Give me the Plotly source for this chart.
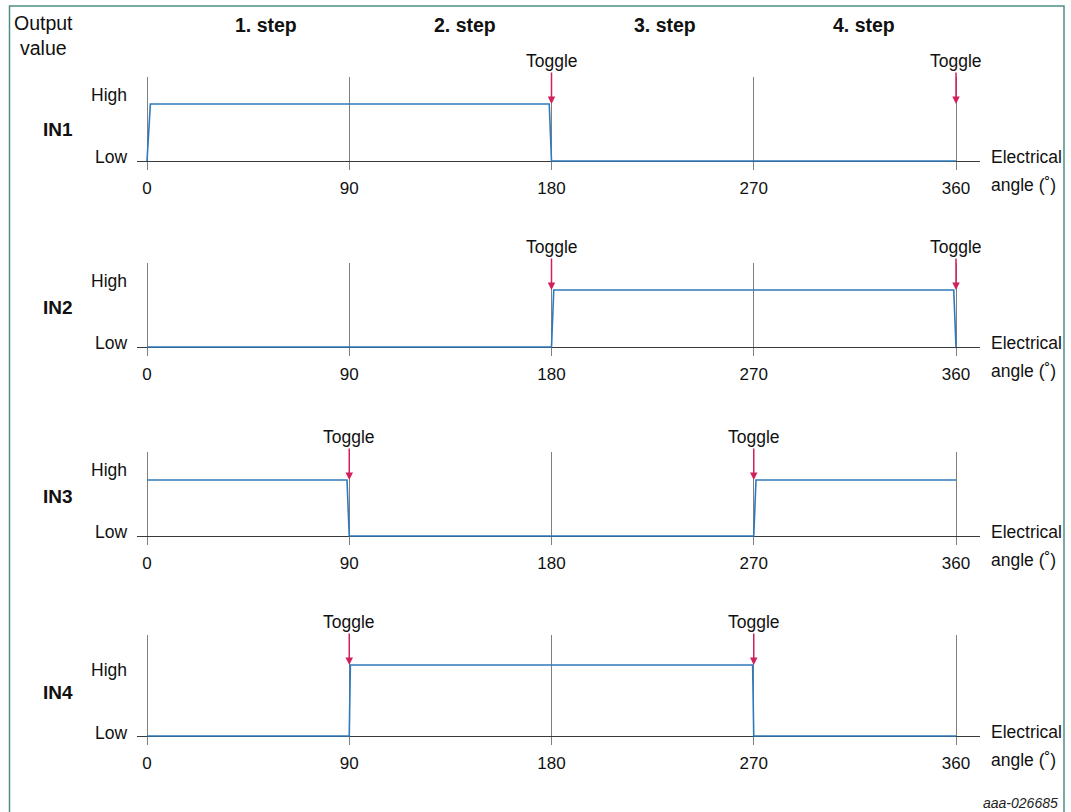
import plotly.graph_objects as go

# ---------------- data ----------------
angle_ticks = [0, 90, 180, 270, 360]
level_ticks = [0, 1]
level_labels = ["Low", "High"]
signal_names = ["IN1", "IN2", "IN3", "IN4"]

in1_x = [0, 1.5, 179, 180, 360]
in1_y = [0, 1, 1, 0, 0]
in2_x = [0, 180, 181, 359, 360]
in2_y = [0, 0, 1, 1, 0]
in3_x = [0, 89, 90, 270, 271, 360]
in3_y = [1, 1, 0, 0, 1, 1]
in4_x = [0, 90, 90.5, 269.5, 270, 360]
in4_y = [0, 0, 1, 1, 0, 0]

signals_x = [in1_x, in2_x, in3_x, in4_x]
signals_y = [in1_y, in2_y, in3_y, in4_y]
toggle_angles = [[180, 360], [180, 360], [90, 270], [90, 270]]
step_labels = ["1. step", "2. step", "3. step", "4. step"]

# ---------------- layout geometry (pixels) ----------------
W, H = 1071, 812
# baseline (Low), High level, grid top, grid bottom, High/Low label centres, name centre
panels = [
    dict(base=161, high=104, top=77, bot=170, hi_lbl=95, lo_lbl=157, name=129),
    dict(base=347, high=290, top=263, bot=356, hi_lbl=281, lo_lbl=343, name=307),
    dict(base=536, high=480, top=452, bot=545, hi_lbl=470, lo_lbl=532, name=497),
    dict(base=736, high=665, top=635, bot=745, hi_lbl=670, lo_lbl=733, name=692),
]
x_left_px, x_right_px = 137, 980
x0_px, x360_px = 147, 956

def px_x(px):
    return px / W

def px_y(py):
    return 1 - py / H

def ang(px):
    return (px - x0_px) / (x360_px - x0_px) * 360

font_family = "Arial, Liberation Sans, sans-serif"
blue = "#2f7abb"
red = "#d0215a"
grid = "#7f7f7f"
txt = "#111"

fig = go.Figure()
layout = dict(
    width=W, height=H, autosize=False,
    margin=dict(l=0, r=0, t=0, b=0),
    paper_bgcolor="white", plot_bgcolor="rgba(0,0,0,0)",
    showlegend=False,
    font=dict(family=font_family, size=17, color=txt),
)
annotations = []
shapes = []

def note(xp, yp, text, size, xanchor="center", **kw):
    annotations.append(dict(
        x=px_x(xp), y=px_y(yp), xref="paper", yref="paper",
        text=text, showarrow=False, xanchor=xanchor, yanchor="middle",
        font=dict(size=size, color=kw.pop("color", txt)), **kw,
    ))

for i, p in enumerate(panels):
    n = i + 1
    xa = "x" if n == 1 else f"x{n}"
    ya = "y" if n == 1 else f"y{n}"
    span = p["base"] - p["high"]
    fig.add_trace(go.Scatter(
        x=signals_x[i], y=signals_y[i], mode="lines",
        line=dict(color=blue, width=1.6), xaxis=xa, yaxis=ya,
        hoverinfo="skip",
    ))
    layout[f"xaxis{'' if n == 1 else n}"] = dict(
        domain=[px_x(x_left_px), px_x(x_right_px)],
        range=[ang(x_left_px), ang(x_right_px)],
        anchor=ya, tickvals=angle_ticks,
        ticktext=[str(t) for t in angle_ticks],
        showgrid=True, gridcolor=grid, gridwidth=1,
        zeroline=False, showline=False, ticks="",
        ticklabelstandoff=6,
        tickfont=dict(size=17, color=txt), fixedrange=True,
    )
    layout[f"yaxis{'' if n == 1 else n}"] = dict(
        domain=[px_y(p["bot"]), px_y(p["top"])],
        range=[(p["base"] - p["bot"]) / span, (p["base"] - p["top"]) / span],
        anchor=xa, tickvals=level_ticks, ticktext=level_labels,
        showticklabels=False,
        showgrid=False, zeroline=True, zerolinecolor="#3a3a3a",
        zerolinewidth=1, showline=False, ticks="", fixedrange=True,
    )
    # High / Low labels
    for lbl, yp in zip(level_labels, [p["lo_lbl"], p["hi_lbl"]]):
        note(129, yp, lbl, 17.5, xanchor="right")
    # panel label
    note(58, p["name"], f"<b>{signal_names[i]}</b>", 19)
    # toggle arrows
    for a in toggle_angles[i]:
        annotations.append(dict(
            x=a, y=1, xref=xa, yref=ya, text="Toggle",
            showarrow=True, arrowhead=2, arrowsize=1, arrowwidth=1.5,
            arrowcolor=red, ax=0, ay=-43, standoff=0,
            font=dict(size=17.5, color=txt),
        ))
    # electrical angle label
    note(989, p["base"] - 4, "Electrical", 17.5, xanchor="left")
    note(989, p["base"] + 24, "angle (˚)", 17.5, xanchor="left")

# header
note(43, 35, "Output<br>value", 19.5, align="center")
for lbl, xp in zip(step_labels, [266, 465, 665, 864]):
    note(xp, 25, f"<b>{lbl}</b>", 19.5)
note(1060, 803, "<i>aaa-026685</i>", 14, xanchor="right", color="#222")

shapes.append(dict(
    type="rect", xref="paper", yref="paper",
    x0=px_x(9.5), x1=px_x(1064), y0=-0.02, y1=px_y(6),
    line=dict(color="#4f8f84", width=1.5), fillcolor="rgba(0,0,0,0)",
    layer="below",
))

layout["annotations"] = annotations
layout["shapes"] = shapes
fig.update_layout(**layout)
fig.write_html(
    "out.html",
    config={"displayModeBar": False},
    post_script="document.body.style.margin='0';document.body.style.overflow='hidden';",
)
